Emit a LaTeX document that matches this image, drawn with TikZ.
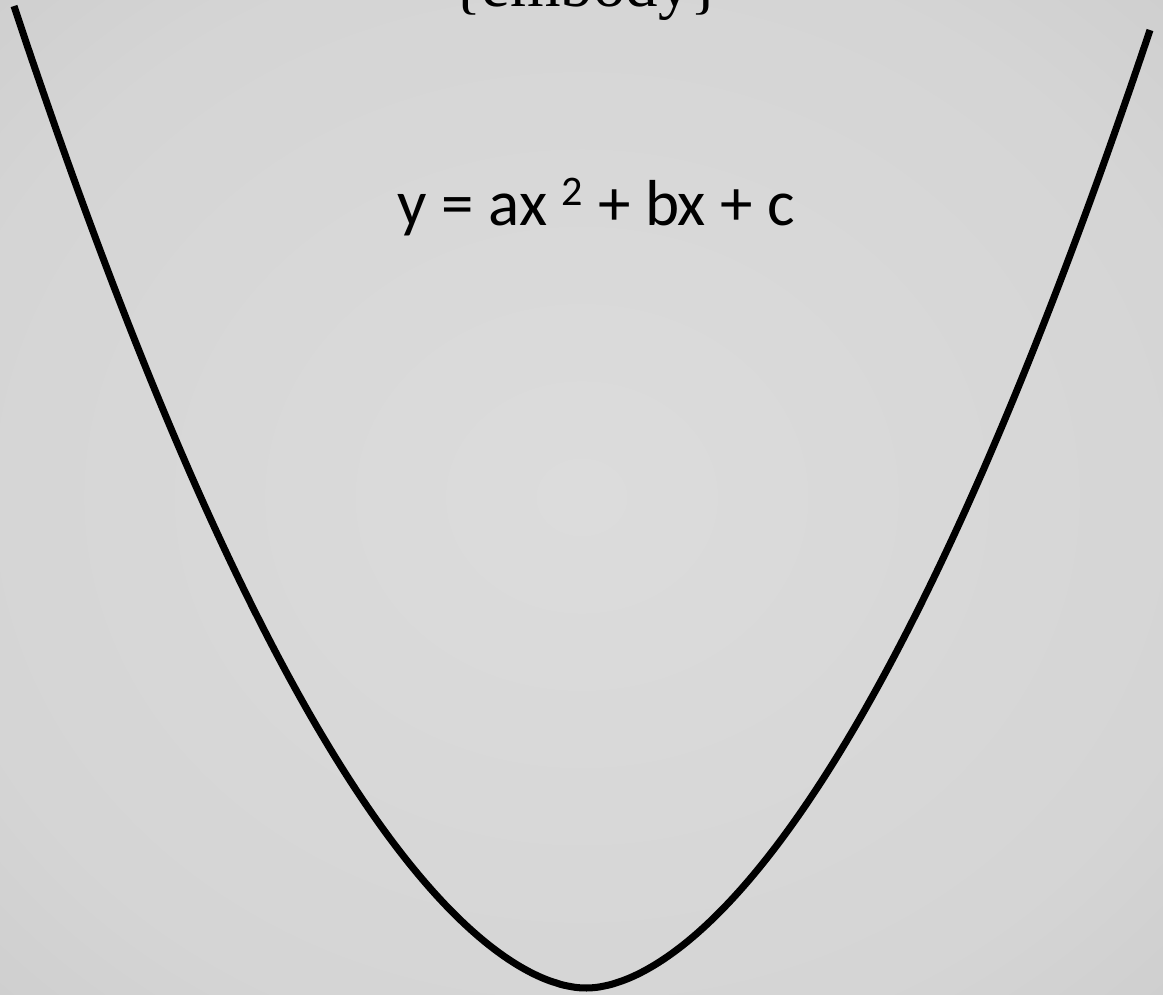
\documentclass[tikz,border=0pt]{standalone}
\usepackage{fontspec}
\usepackage{tikz}
\usetikzlibrary{calc,positioning}
\newfontfamily\eqfont{Carlito}
\newfontfamily\headfont{Liberation Serif}
\definecolor{bgin}{HTML}{DCDCDC}
\definecolor{bgout}{HTML}{C4C4C4}
\pgfdeclareradialshading{bgglow}{\pgfpoint{0bp}{0bp}}{color(0bp)=(bgin); color(28bp)=(bgin!70!bgout); color(50bp)=(bgout); color(100bp)=(bgout)}
\tikzset{
  parab/.style={line width=4pt,black,line cap=butt},
  eqtext/.style={inner sep=0pt,anchor=base west,font=\eqfont\fontsize{37}{44}\selectfont},
  headtext/.style={inner sep=0pt,anchor=base,font=\headfont\fontsize{37}{44}\selectfont},
}

\begin{document}
\begin{tikzpicture}[x=0.02cm,y=-0.02cm]
\path[shading=bgglow] (0,0) rectangle (1163,994);
\useasboundingbox (0,0) rectangle (1163,994);
\clip (0,0) rectangle (1163,994);
% title runs off the top edge, as in the slide
\node[headtext] (head) at (586,6) {\{embody\}};
\node[eqtext] (eq) at (397,225)
  {y = ax \raisebox{0.3em}{\fontsize{24}{24}\selectfont 2} + bx + c};
% curve, in units of 100px from the lowest point
\draw[parab] plot[domain=-5.72:5.64,samples=240,smooth]
  ({586+100*\x},{988-46.5*((\x*\x+0.04)^0.875-0.0598)});
\end{tikzpicture}
\end{document}
